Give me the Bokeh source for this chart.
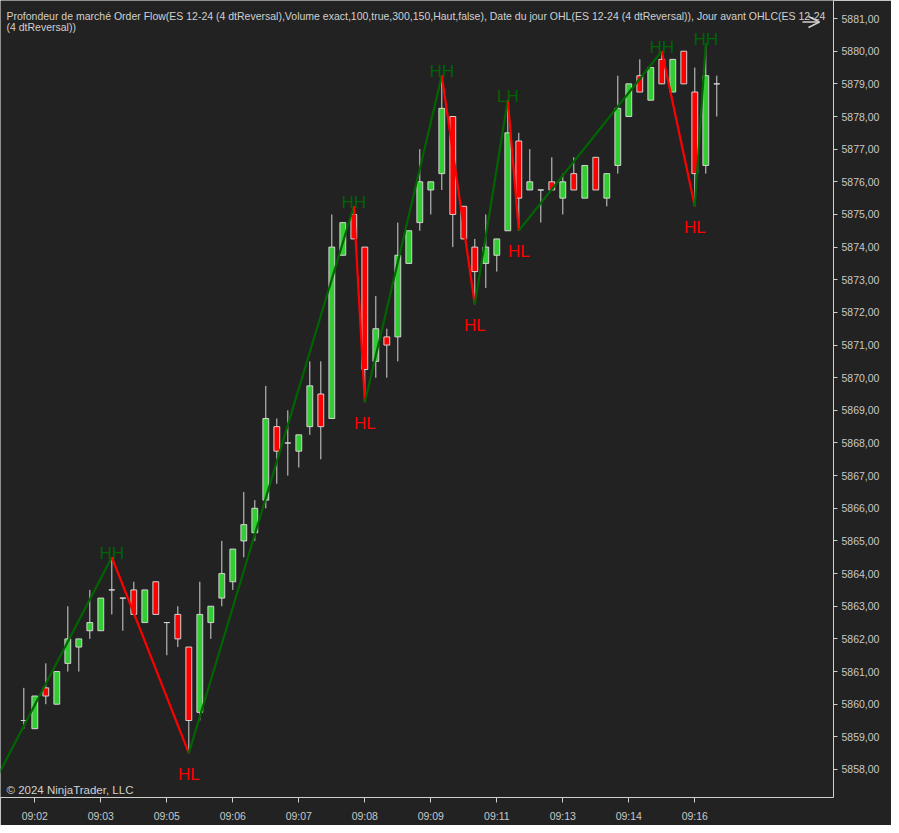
from bokeh.plotting import figure
from bokeh.models import (ColumnDataSource, FixedTicker, CustomJSTickFormatter, Label,
                          Range1d, Arrow, OpenHead)
from bokeh.core.properties import value
from bokeh.embed import file_html
from bokeh.resources import INLINE

# ---------------- data ----------------
bar_index = list(range(64))
opens = [5859.5, 5859.25, 5860.5, 5860.0, 5861.25, 5861.75, 5862.25, 5862.25, 5863.5, 5863.25,
         5863.5, 5862.5, 5863.75, 5862.5, 5862.75, 5861.75, 5859.75, 5862.5, 5863.25, 5863.75,
         5865.0, 5865.25, 5866.25, 5868.5, 5868.0, 5867.75, 5868.5, 5869.5, 5868.75, 5873.75,
         5875.0, 5874.0, 5870.5, 5871.25, 5871.25, 5873.5, 5874.75, 5875.75, 5876.25, 5878.0,
         5875.25, 5874.0, 5873.5, 5873.75, 5874.5, 5877.25, 5875.75, 5875.75, 5876.0, 5875.5,
         5876.25, 5875.5, 5876.75, 5875.5, 5876.5, 5878.0, 5879.25, 5878.5, 5879.75, 5878.75,
         5880.0, 5878.75, 5876.5, 5879.0]
highs = [5860.5, 5860.25, 5861.25, 5861.0, 5863.0, 5862.0, 5863.5, 5863.25, 5864.5, 5863.25,
         5863.75, 5863.5, 5863.75, 5862.5, 5863.0, 5861.75, 5863.75, 5863.0, 5865.0, 5864.75,
         5866.5, 5866.25, 5869.75, 5868.75, 5869.0, 5868.25, 5870.5, 5870.5, 5875.0, 5874.75,
         5875.25, 5874.0, 5872.5, 5871.5, 5874.75, 5874.5, 5877.0, 5876.0, 5879.25, 5878.0,
         5875.25, 5874.25, 5875.0, 5874.25, 5878.5, 5877.5, 5877.0, 5875.75, 5876.75, 5876.25,
         5876.75, 5876.5, 5876.75, 5876.25, 5879.25, 5879.0, 5879.75, 5879.5, 5880.0, 5879.75,
         5880.0, 5879.5, 5880.25, 5879.25]
lows = [5859.25, 5859.25, 5860.0, 5860.0, 5861.0, 5861.0, 5862.0, 5862.25, 5862.75, 5862.25,
        5862.75, 5862.5, 5862.75, 5861.5, 5861.75, 5858.5, 5859.5, 5862.0, 5863.0, 5863.5,
        5864.5, 5865.0, 5866.0, 5866.75, 5867.0, 5867.25, 5868.25, 5867.5, 5868.75, 5873.75,
        5874.25, 5869.25, 5870.0, 5870.0, 5870.5, 5873.5, 5874.5, 5875.0, 5875.75, 5874.0,
        5874.25, 5872.25, 5872.75, 5873.25, 5874.5, 5874.5, 5875.75, 5874.75, 5875.75, 5875.0,
        5875.75, 5875.5, 5875.75, 5875.25, 5876.25, 5878.0, 5878.75, 5878.5, 5879.0, 5878.75,
        5879.0, 5875.25, 5876.25, 5878.0]
closes = [5859.5, 5860.25, 5860.25, 5861.0, 5862.0, 5862.0, 5862.5, 5863.25, 5863.5, 5863.25,
          5862.75, 5863.5, 5862.75, 5862.5, 5862.0, 5859.5, 5862.75, 5863.0, 5864.0, 5864.75,
          5865.5, 5866.0, 5868.75, 5867.75, 5868.0, 5868.25, 5869.75, 5868.5, 5874.0, 5874.75,
          5874.25, 5870.25, 5871.5, 5871.0, 5873.75, 5874.5, 5876.0, 5876.0, 5878.25, 5875.0,
          5874.25, 5873.25, 5874.0, 5874.25, 5877.5, 5875.5, 5876.0, 5875.75, 5875.75, 5876.0,
          5875.75, 5876.5, 5875.75, 5876.25, 5878.25, 5879.0, 5878.75, 5879.5, 5879.0, 5879.75,
          5879.0, 5876.25, 5879.25, 5879.0]

# swing (zigzag) points
zz_bars = [-4, 8, 15, 30, 31, 38, 41, 44, 45, 58, 61, 62]
zz_prices = [5856.75, 5864.5, 5858.5, 5875.25, 5869.25, 5879.25, 5872.25, 5878.5, 5874.5,
             5880.0, 5875.25, 5880.25]
zz_labels = ["", "HH", "HL", "HH", "HL", "HH", "HL", "LH", "HL", "HH", "HL", "HH"]

x_tick_bars = [1, 7, 13, 19, 25, 31, 37, 43, 49, 55, 61]
x_tick_labels = ["09:02", "09:03", "09:05", "09:06", "09:07", "09:08", "09:09", "09:11",
                 "09:13", "09:14", "09:16"]
y_ticks = list(range(5858, 5882))

title_line1 = ("Profondeur de marché Order Flow(ES 12-24 (4 dtReversal),Volume exact,100,true,300,150,"
               "Haut,false), Date du jour OHL(ES 12-24 (4 dtReversal)), Jour avant OHLC(ES 12-24")
title_line2 = "(4 dtReversal))"
copyright_text = "© 2024 NinjaTrader, LLC"

# ---------------- style ----------------
BG = "#222222"
UP = "#32CD32"
DOWN = "#FF0000"
WICK = "#d3d3d3"
ZZ_UP = "#006400"
ZZ_DOWN = "#FF0000"
TXT = "#c8c8c8"
FONT = "Liberation Sans"

FRAME_W, FRAME_H = 833, 797
p = figure(width=891, height=825, output_backend="svg", toolbar_location=None,
           x_range=Range1d(-2.12, 73.61), y_range=Range1d(5857.142, 5881.553),
           y_axis_location="right",
           min_border_left=0, min_border_top=0, min_border_right=891 - FRAME_W,
           min_border_bottom=825 - FRAME_H,
           background_fill_color=BG, border_fill_color=BG, outline_line_color=None)
p.grid.visible = False

# candles
body_top = [max(o, c) for o, c in zip(opens, closes)]
body_bot = [min(o, c) for o, c in zip(opens, closes)]
colors = [UP if c >= o else DOWN for o, c in zip(opens, closes)]
src = ColumnDataSource(dict(x=bar_index, h=highs, l=lows, t=body_top, b=body_bot, col=colors))
p.segment(x0="x", y0="h", x1="x", y1="l", source=src, line_color=WICK, line_width=1)
p.vbar(x="x", top="t", bottom="b", width=0.53, source=src, fill_color="col",
       line_color=WICK, line_width=1)

# zigzag
seg_xs, seg_ys, seg_cols = [], [], []
for i in range(len(zz_bars) - 1):
    seg_xs.append([zz_bars[i], zz_bars[i + 1]])
    seg_ys.append([zz_prices[i], zz_prices[i + 1]])
    seg_cols.append(ZZ_UP if zz_prices[i + 1] > zz_prices[i] else ZZ_DOWN)
p.multi_line(xs=seg_xs, ys=seg_ys, line_color=seg_cols, line_width=2.2)

hi_x = [b for b, l in zip(zz_bars, zz_labels) if l in ("HH", "LH")]
hi_y = [v for v, l in zip(zz_prices, zz_labels) if l in ("HH", "LH")]
hi_t = [l for l in zz_labels if l in ("HH", "LH")]
lo_x = [b for b, l in zip(zz_bars, zz_labels) if l in ("HL", "LL")]
lo_y = [v for v, l in zip(zz_prices, zz_labels) if l in ("HL", "LL")]
lo_t = [l for l in zz_labels if l in ("HL", "LL")]
p.text(x=hi_x, y=hi_y, text=hi_t, text_color=ZZ_UP, text_font=value(FONT),
       text_font_size="17px", text_align="center", text_baseline="alphabetic", y_offset=-4)
p.text(x=lo_x, y=lo_y, text=lo_t, text_color=ZZ_DOWN, text_font=value(FONT),
       text_font_size="17px", text_align="center", text_baseline="alphabetic", y_offset=21)

# axes
p.xaxis.ticker = FixedTicker(ticks=x_tick_bars)
p.xaxis.major_label_overrides = {b: t for b, t in zip(x_tick_bars, x_tick_labels)}
p.yaxis.ticker = FixedTicker(ticks=y_ticks)
p.yaxis.formatter = CustomJSTickFormatter(code="return tick.toFixed(2).replace('.', ',');")
for ax in (p.xaxis[0], p.yaxis[0]):
    ax.axis_line_color = "#d0d0d0"
    ax.major_tick_line_color = "#d0d0d0"
    ax.minor_tick_line_color = None
    ax.major_tick_in = 0
    ax.major_label_text_color = TXT
    ax.major_label_text_font = FONT
    ax.major_label_text_font_size = "10.5px"
p.xaxis.major_tick_out = 5
p.xaxis.major_label_standoff = 7
p.yaxis.major_tick_out = 4
p.yaxis.major_label_standoff = 4

# frame-relative screen coords (frame origin = picture top-left, frame bottom = y 797)
def sy(py):
    return FRAME_H - py

# titles
p.add_layout(Label(x=6, y=sy(15), x_units="screen", y_units="screen", text=title_line1,
                   text_color="#d0d0d0", text_font=FONT, text_font_size="10.5px",
                   text_baseline="alphabetic"))
p.add_layout(Label(x=6, y=sy(26), x_units="screen", y_units="screen", text=title_line2,
                   text_color="#d0d0d0", text_font=FONT, text_font_size="10.5px",
                   text_baseline="alphabetic"))
p.add_layout(Label(x=6, y=sy(789), x_units="screen", y_units="screen", text=copyright_text,
                   text_color="#d0d0d0", text_font=FONT, text_font_size="11.5px",
                   text_baseline="alphabetic"))

# arrow top right
p.add_layout(Arrow(x_start=802, y_start=sy(21.5), x_end=819, y_end=sy(21.5),
                   start_units="screen", end_units="screen", line_color="#d0d0d0", line_width=1.5,
                   end=OpenHead(size=11, line_color="#d0d0d0", line_width=1.5)))

open("out.html", "w").write(file_html(p, INLINE))
